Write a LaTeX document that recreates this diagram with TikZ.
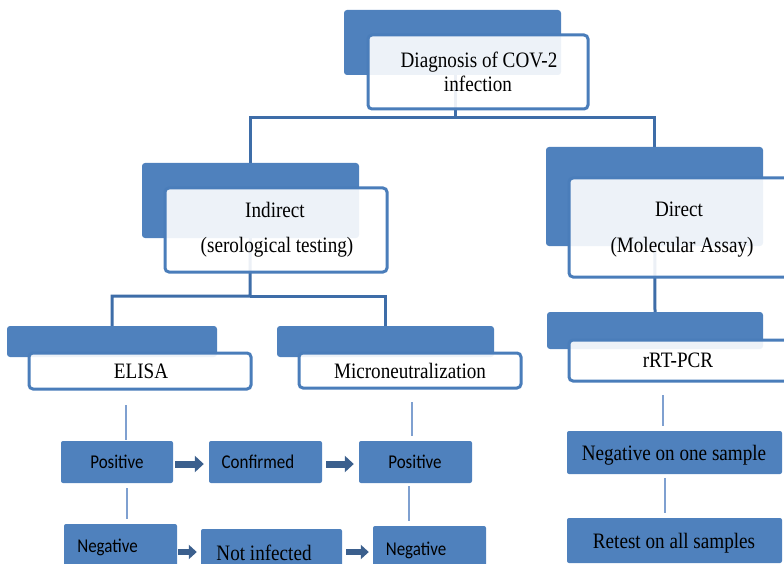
\documentclass[tikz,border=0pt]{standalone}
\usepackage{fontspec}
\newfontfamily\serifc[FakeStretch=0.87]{Liberation Serif}
\newfontfamily\sansc[FakeStretch=0.87]{Carlito}
\usetikzlibrary{arrows.meta}
\pgfdeclarelayer{bg}
\pgfsetlayers{bg,main}
\definecolor{boxblue}{HTML}{4F81BD}
\definecolor{edgeblue}{HTML}{4A7DBA}
\definecolor{linkblue}{HTML}{3E6DA8}
\definecolor{thinblue}{HTML}{7FA0D0}
\definecolor{arrowblue}{HTML}{3B5F8D}
\tikzset{
  backrect/.style={draw=none, fill=boxblue, rounded corners=3pt, inner sep=0pt},
  frontrect/.style={draw=edgeblue, line width=3pt, fill=white, fill opacity=0.9, rounded corners=4pt, inner sep=0pt},
  smallbox/.style={draw=none, fill=boxblue, rounded corners=2pt, inner sep=0pt},
  serifbig/.style={font=\serifc\fontsize{22}{26}\selectfont, anchor=base, inner sep=0pt},
  sanslab/.style={font=\sansc\fontsize{19.5}{23}\selectfont, anchor=base, inner sep=0pt},
  link/.style={draw=linkblue, line width=3pt},
  thinlink/.style={draw=thinblue, line width=1.5pt},
  fatarrow/.style={draw=arrowblue, line width=7pt, -{Triangle[length=9pt,width=16pt]}},
  smallarrow/.style={draw=arrowblue, line width=6pt, -{Triangle[length=8pt,width=14pt]}}
}
\begin{document}
\begin{tikzpicture}[x=1pt,y=-1pt]
\useasboundingbox (0,0) rectangle (784,564);
\clip (0,0) rectangle (784,564);
% back rectangles
\node[backrect, minimum width=217pt, minimum height=65pt] (topb) at (452.5,42.5) {};
\node[backrect, minimum width=217pt, minimum height=75pt] (indb) at (250.5,200.5) {};
\node[backrect, minimum width=217pt, minimum height=99pt] (dirb) at (654.5,196.5) {};
\node[backrect, minimum width=210pt, minimum height=31pt] (elisab) at (112,341.5) {};
\node[backrect, minimum width=217pt, minimum height=31pt] (micb) at (385.5,341.5) {};
\node[backrect, minimum width=216pt, minimum height=37pt] (rrtb) at (655,330.5) {};
% front boxes
\node[frontrect, minimum width=220pt, minimum height=74pt] (topw) at (478,72) {};
\node[frontrect, minimum width=222pt, minimum height=84pt] (indw) at (276,230) {};
\node[frontrect, minimum width=222pt, minimum height=99pt] (dirw) at (680,227.5) {};
\node[frontrect, minimum width=222pt, minimum height=36pt] (elisaw) at (140,371) {};
\node[frontrect, minimum width=222pt, minimum height=35pt] (micw) at (410,370.5) {};
\node[frontrect, minimum width=222pt, minimum height=41pt] (rrtw) at (680,360.5) {};
% junctions
\coordinate (j1) at (455,118);
\coordinate (j2) at (250,296);
% connectors (behind everything)
\begin{pgfonlayer}{bg}
\draw[link] ([xshift=-23pt]topw.center) -- (j1) -| (indb.north);
\draw[link] (j1) -| (dirb.north);
\draw[link] (indb.center) -- (j2) -| (elisab.north);
\draw[link] (j2) -| (micb.north);
\draw[link] (dirb.center) -- (rrtb.north);
\end{pgfonlayer}
% texts
\node[serifbig] (t1) at (479,68) {Diagnosis of COV-2};
\node[serifbig] (t2) at (478,92) {infection};
\node[serifbig] (t3) at (275,218) {Indirect};
\node[serifbig] (t4) at (277,252) {(serological testing)};
\node[serifbig] (t5) at (679,216) {Direct};
\node[serifbig] (t6) at (682,252) {(Molecular Assay)};
\node[serifbig] (t7) at (141,378) {ELISA};
\node[serifbig] (t8) at (410,378) {Microneutralization};
\node[serifbig] (t9) at (678,367) {rRT-PCR};
% small boxes
\node[smallbox, minimum width=112pt, minimum height=42pt] (pos1) at (117,462) {};
\node[smallbox, minimum width=113pt, minimum height=42pt] (conf) at (265.5,462) {};
\node[smallbox, minimum width=113pt, minimum height=42pt] (pos2) at (415.5,462) {};
\node[smallbox, minimum width=113pt, minimum height=46pt] (neg1) at (120.5,547) {};
\node[smallbox, minimum width=141pt, minimum height=46pt] (notinf) at (271.5,552) {};
\node[smallbox, minimum width=113pt, minimum height=46pt] (neg2) at (429.5,549) {};
\node[smallbox, minimum width=215pt, minimum height=43pt] (negone) at (674.5,452.5) {};
\node[smallbox, minimum width=215pt, minimum height=45pt] (retest) at (674.5,540.5) {};
\node[sanslab] (l1) at (117,468) {Positive};
\node[sanslab] (l2) at (258,468) {Confirmed};
\node[sanslab] (l3) at (415,468) {Positive};
\node[sanslab] (l4) at (107.5,552) {Negative};
\node[serifbig] (l5) at (264,560) {Not infected};
\node[sanslab] (l6) at (416,555) {Negative};
\node[serifbig] (l7) at (674,460) {Negative on one sample};
\node[serifbig] (l8) at (674,548) {Retest on all samples};
% thin connectors
\coordinate (e1) at (126,405);
\coordinate (e2) at (127,488);
\coordinate (e3) at (412,402);
\coordinate (e4) at (409,486);
\coordinate (e5) at (663,395);
\coordinate (e6) at (665,478);
\draw[thinlink, shorten >=1pt] (e1) -- (e1 |- pos1.north);
\draw[thinlink, shorten >=5pt] (e2) -- (e2 |- neg1.north);
\draw[thinlink, shorten >=5pt] (e3) -- (e3 |- pos2.north);
\draw[thinlink, shorten >=5pt] (e4) -- (e4 |- neg2.north);
\draw[thinlink, shorten >=5pt] (e5) -- (e5 |- negone.north);
\draw[thinlink, shorten >=5pt] (e6) -- (e6 |- retest.north);
% fat arrows
\coordinate (a1) at (175,464);
\coordinate (a2) at (326,464);
\coordinate (a3) at (178,552);
\coordinate (a4) at (346,552);
\draw[fatarrow] (a1) -- (a1 -| conf.west) [shorten >=5pt];
\draw[fatarrow, shorten >=5pt] (a2) -- (a2 -| pos2.west);
\draw[smallarrow, shorten >=4pt] (a3) -- (a3 -| notinf.west);
\draw[smallarrow, shorten >=4pt] (a4) -- (a4 -| neg2.west);
\end{tikzpicture}
\end{document}
